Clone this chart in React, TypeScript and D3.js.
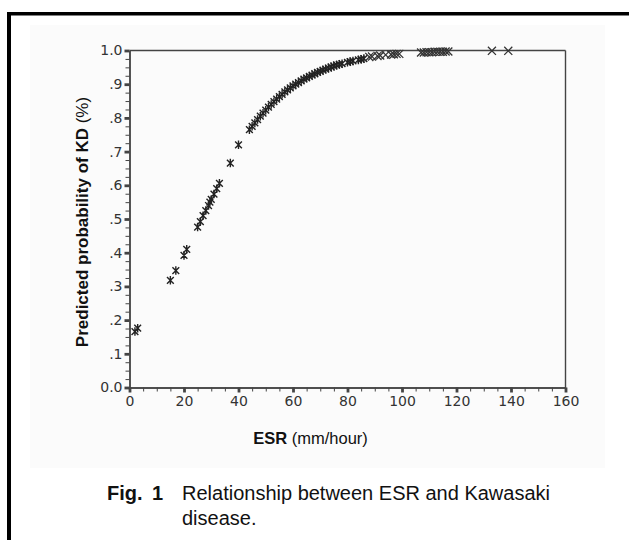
import React, { useEffect, useRef } from "react";
import * as d3 from "d3";

// predicted probability points drawn with "*"
const starEsr = [2, 3, 15, 17, 20, 21, 25, 26, 27, 28, 29, 29.5, 30, 31, 32, 33, 37, 40,
  44, 45, 46, 47, 48, 49, 50, 51, 52, 53, 54, 55, 56, 57, 58, 59, 60, 61, 62, 63, 64, 65,
  66, 67, 68, 69, 70, 71, 72, 73, 74, 75, 76, 77, 78, 80, 81, 82, 84, 85, 86];
const starProb = [0.166, 0.176, 0.318, 0.347, 0.392, 0.41, 0.476, 0.492, 0.51, 0.525, 0.54, 0.55, 0.558, 0.574, 0.59, 0.606, 0.666, 0.72,
  0.765, 0.775, 0.785, 0.795, 0.805, 0.814, 0.823, 0.832, 0.84, 0.848, 0.856, 0.863, 0.87, 0.877, 0.883, 0.889, 0.895, 0.9, 0.905, 0.91, 0.915, 0.919,
  0.923, 0.927, 0.931, 0.935, 0.938, 0.942, 0.945, 0.948, 0.951, 0.954, 0.957, 0.959, 0.961, 0.965, 0.967, 0.969, 0.972, 0.974, 0.976];

// points drawn with "x"
const crossEsr = [88, 89, 91, 92, 94, 96, 97, 98, 99, 107, 108, 109, 110, 111, 112, 113, 114, 115, 116, 117, 133, 139];
const crossProb = [0.981, 0.982, 0.984, 0.985, 0.987, 0.988, 0.989, 0.99, 0.99, 0.994, 0.994, 0.995, 0.995, 0.995, 0.996, 0.996, 0.996, 0.996, 0.997, 0.997, 0.999, 0.999];

const xTicks = [0, 20, 40, 60, 80, 100, 120, 140, 160];
const yTicks = [0, 0.1, 0.2, 0.3, 0.4, 0.5, 0.6, 0.7, 0.8, 0.9, 1.0];
const yTickLabels = ["0.0", ".1", ".2", ".3", ".4", ".5", ".6", ".7", ".8", ".9", "1.0"];

const xTitle = ["ESR", " (mm/hour)"];
const yTitle = ["Predicted probability of KD", " (%)"];
const captionLabel = ["Fig.", "1"];
const captionText = ["Relationship between ESR and Kawasaki", "disease."];

// asterisk: X plus vertical bar
const asteriskType = {
  draw(ctx: any, size: number) {
    const r = Math.sqrt(size) / 2;
    const d = r * 0.8;
    ctx.moveTo(0, -r); ctx.lineTo(0, r);
    ctx.moveTo(-d, -d); ctx.lineTo(d, d);
    ctx.moveTo(-d, d); ctx.lineTo(d, -d);
  },
};

export default function App() {
  const xAxisRef = useRef<SVGGElement>(null);
  const yAxisRef = useRef<SVGGElement>(null);

  const x = d3.scaleLinear().domain([0, 160]).range([129.5, 565.5]);
  const y = d3.scaleLinear().domain([0, 1]).range([387.5, 50.5]);

  const star = d3.symbol().type(asteriskType as any).size(72)();
  const cross = d3.symbol().type(d3.symbolTimes).size(44)();

  useEffect(() => {
    const gx = d3.select(xAxisRef.current);
    gx.selectAll("*").remove();
    gx.append("g").call(
      d3.axisBottom(x).tickValues(d3.range(0, 161, 5)).tickSize(4).tickSizeOuter(0).tickFormat(() => "")
    );
    gx.append("g").call(
      d3.axisBottom(x).tickValues(xTicks).tickSize(5).tickSizeOuter(0).tickPadding(4).tickFormat(d3.format("d"))
    );

    const gy = d3.select(yAxisRef.current);
    gy.selectAll("*").remove();
    gy.append("g").call(
      d3.axisLeft(y).tickValues(d3.range(0, 1.001, 0.025)).tickSize(4).tickSizeOuter(0).tickFormat(() => "")
    );
    gy.append("g").call(
      d3.axisLeft(y).tickValues(yTicks).tickSize(5).tickSizeOuter(0).tickPadding(2)
        .tickFormat((d, i) => yTickLabels[i])
    );

    [gx, gy].forEach((g) => {
      g.selectAll(".domain").attr("stroke", "#444").attr("stroke-width", 1.4);
      g.selectAll(".tick line").attr("stroke", "#444").attr("stroke-width", 1);
      g.selectAll("g:last-child .tick line").attr("stroke-width", 2.8);
      g.selectAll(".tick text")
        .attr("fill", "#333")
        .attr("font-family", "'DejaVu Sans', Verdana, sans-serif")
        .attr("font-size", 14);
    });
  }, []);

  return (
    <svg width={629} height={540} style={{ position: "absolute", left: 0, top: 0, background: "#fff" }}>
      <rect x={30} y={25} width={575} height={443} fill="#fbfbfb" />

      {/* frame */}
      <rect x={7} y={12} width={622} height={3.5} fill="#000" />
      <rect x={7} y={12} width={4} height={528} fill="#000" />

      {/* top and right plot border */}
      <line x1={x(0)} x2={x(160)} y1={y(1)} y2={y(1)} stroke="#444" strokeWidth={1.4} />
      <line x1={x(160)} x2={x(160)} y1={y(0)} y2={y(1)} stroke="#444" strokeWidth={1.4} />

      <g ref={xAxisRef} transform={`translate(0,${y(0)})`} />
      <g ref={yAxisRef} transform={`translate(${x(0)},0)`} />

      {starEsr.map((e, i) => (
        <path key={"s" + i} d={star || ""} transform={`translate(${x(e)},${y(starProb[i])})`}
          fill="none" stroke="#222" strokeWidth={1.4} />
      ))}
      {crossEsr.map((e, i) => (
        <path key={"c" + i} d={cross || ""} transform={`translate(${x(e)},${y(crossProb[i])})`}
          fill="none" stroke="#333" strokeWidth={1.3} />
      ))}

      <text x={(x(0) + x(160)) / 2 - 37} y={444} textAnchor="middle"
        fontFamily="'Liberation Sans', Arial, sans-serif" fontSize={16.5} fill="#111">
        <tspan fontWeight="bold">{xTitle[0]}</tspan>
        <tspan>{xTitle[1]}</tspan>
      </text>

      <text transform={`translate(88,${(y(0) + y(1)) / 2 + 3}) rotate(-90)`} textAnchor="middle"
        fontFamily="'Liberation Sans', Arial, sans-serif" fontSize={17} fill="#111">
        <tspan fontWeight="bold">{yTitle[0]}</tspan>
        <tspan>{yTitle[1]}</tspan>
      </text>

      <g fontFamily="'Liberation Sans', Arial, sans-serif" fontSize={20} fill="#111">
        <text x={107} y={500} fontWeight="bold">{captionLabel[0]}</text>
        <text x={152} y={500} fontWeight="bold">{captionLabel[1]}</text>
        <text x={182} y={500}>{captionText[0]}</text>
        <text x={182} y={525}>{captionText[1]}</text>
      </g>
    </svg>
  );
}
